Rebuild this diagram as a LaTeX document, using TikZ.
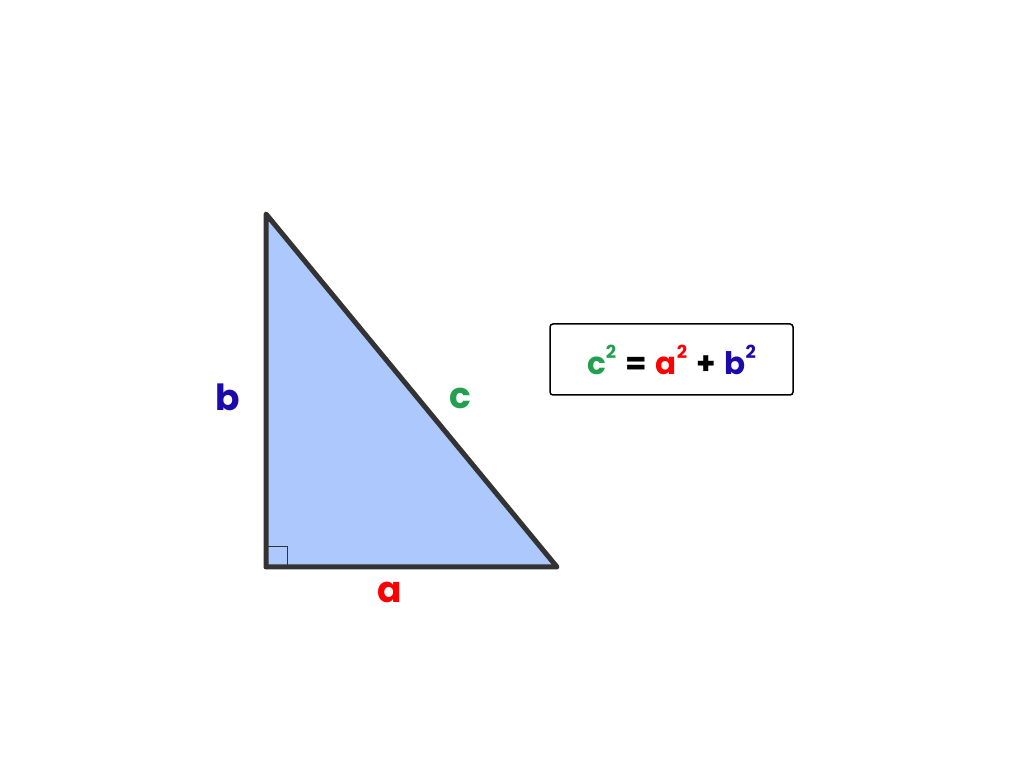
\documentclass[tikz,border=0pt]{standalone}
\usepackage{fontspec}
\setmainfont{Poppins}
\usepackage{xcolor}
\usetikzlibrary{positioning}
\definecolor{sidea}{HTML}{FF0000}
\definecolor{sideb}{HTML}{1C0BAA}
\definecolor{sidec}{HTML}{22A04F}
\definecolor{trifill}{HTML}{ADC8FD}
\definecolor{triline}{HTML}{333333}
\tikzstyle{side} = [line width=5pt, triline, line join=round, line cap=round]
\tikzstyle{lbl} = [font=\fontsize{36}{40}\selectfont\bfseries, inner sep=0pt]
\tikzstyle{formula} = [draw=black, line width=1.5pt, rounded corners=3pt, minimum width=243pt, minimum height=71pt, font=\fontsize{31}{32}\selectfont\bfseries]
\newcommand{\sq}{\raisebox{0.52em}{\fontsize{18}{18}\selectfont 2}}
\newcommand{\gap}{\hspace{9pt}}

\begin{document}
\begin{tikzpicture}[x=1pt,y=1pt]
                    \useasboundingbox (0,0) rectangle (1024,768);
                    \coordinate (B) at (266,554);
                    \coordinate (C) at (266,201);
                    \coordinate (A) at (557,201);
                    \fill[trifill] (B) -- (C) -- (A) -- cycle;
                    \draw[triline, line width=0.8pt] (266,222) -| (287,201);
                    \draw[side] (B) -- (C) -- (A) -- cycle;
                    \node[lbl, text=sideb] (lb) at (228,371) {b};
                    \node[lbl, text=sidec] (lc) at (460,370) {c};
                    \node[lbl, text=sidea] (la) at (390,176) {a};
                    \node[formula] (eq) at (671.5,408.5) {\textcolor{sidec}{c\sq}\gap=\gap\textcolor{sidea}{a\sq}\gap+\gap\textcolor{sideb}{b\sq}};
                \end{tikzpicture}
\end{document}
